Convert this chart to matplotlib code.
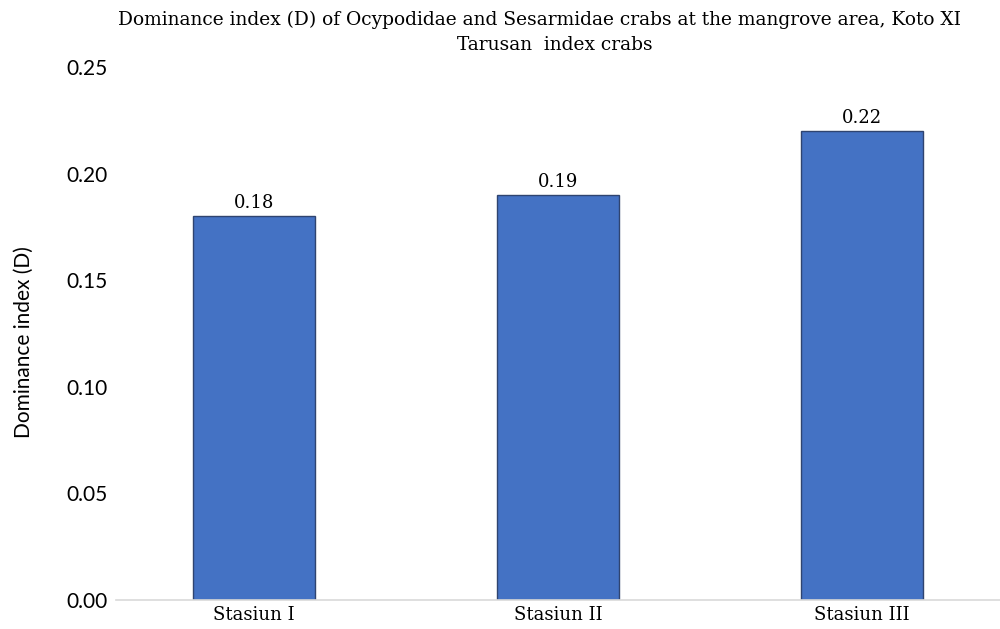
import matplotlib.pyplot as plt
from matplotlib.ticker import FormatStrFormatter

# data
stations = ["Stasiun I", "Stasiun II", "Stasiun III"]
dominance = [0.18, 0.19, 0.22]
yticks = [0.00, 0.05, 0.10, 0.15, 0.20, 0.25]

serif = "DejaVu Serif"
sans = "Lato"

fig = plt.figure(figsize=(10, 6.29), dpi=100)
ax = fig.add_axes([0.116, 0.0461, 0.884, 0.8474])

x = range(len(stations))
bars = ax.bar(x, dominance, width=0.4, color="#4472C4", edgecolor="#2F4470", linewidth=1.0)

for b, v in zip(bars, dominance):
    ax.annotate(f"{v:.2f}", (b.get_x() + b.get_width() / 2, v), xytext=(0, 3),
                textcoords="offset points", ha="center", va="bottom",
                fontsize=13, family=serif)

ax.set_xlim(-0.454, 2.454)
ax.set_ylim(0, 0.25)
ax.set_yticks(yticks)
ax.yaxis.set_major_formatter(FormatStrFormatter("%.2f"))
ax.set_xticks(list(x))
ax.set_xticklabels(stations, fontsize=13, family=serif)
for lab in ax.get_yticklabels():
    lab.set_family(sans)
    lab.set_fontsize(15)

for s in ["top", "right", "left"]:
    ax.spines[s].set_visible(False)
ax.spines["bottom"].set_color("#D9D9D9")
ax.spines["bottom"].set_linewidth(1.2)
ax.tick_params(axis="both", length=0)
ax.tick_params(axis="y", pad=6)
ax.tick_params(axis="x", pad=4)

ax.set_ylabel("Dominance index (D)", fontsize=15, family=sans)
ax.yaxis.set_label_coords(-0.0925, 0.484)

fig.text(0.54, 0.968, "Dominance index (D) of Ocypodidae and Sesarmidae crabs at the mangrove area, Koto XI",
         ha="center", va="center", fontsize=13.4, family=serif)
fig.text(0.555, 0.928, "Tarusan  index crabs", ha="center", va="center", fontsize=13.4, family=serif)

fig.savefig("out.png", dpi=100)
